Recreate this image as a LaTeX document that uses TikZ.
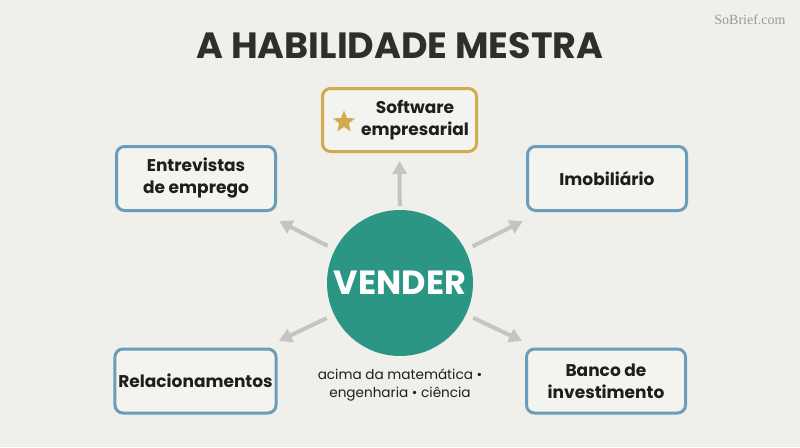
\documentclass[tikz,border=0pt]{standalone}
\usepackage{fontspec}
\setmainfont{Poppins}
\newfontfamily\markfont{Liberation Serif}
\usepackage{tikz}
\usetikzlibrary{shapes.geometric,arrows.meta,positioning}
\definecolor{paper}{HTML}{EFEFEB}
\definecolor{boxfill}{HTML}{F3F3F0}
\definecolor{vendgreen}{HTML}{2A9683}
\definecolor{edgeblue}{HTML}{6A9DBA}
\definecolor{edgegold}{HTML}{D4AB4C}
\definecolor{arrgray}{HTML}{C4C4C0}
\definecolor{inkdark}{HTML}{1E1E1E}
\definecolor{titleink}{HTML}{2E2E2C}
\tikzset{
  field/.style={rectangle,rounded corners=8pt,draw=edgeblue,line width=3pt,fill=boxfill,
                minimum width=159pt,minimum height=64pt,align=center,
                font=\bfseries\fontsize{17}{22}\selectfont,text=inkdark},
  keyfield/.style={field,draw=edgegold,minimum width=154pt,minimum height=63pt},
  fieldtext/.style={align=center,font=\bfseries\fontsize{17}{22}\selectfont,text=inkdark},
  arr/.style={-{Triangle[length=13pt,width=14pt]},draw=arrgray,line width=4pt},
}

\begin{document}
\begin{tikzpicture}[x=1pt,y=-1pt]
  \fill[paper] (0,0) rectangle (800,447);
  \node[font=\bfseries\fontsize{36.5}{36.5}\selectfont,text=titleink] (title) at (400,46) {A HABILIDADE MESTRA};
  \node[font=\markfont\fontsize{14}{14}\selectfont,text=black!40] (mark) at (750,20) {SoBrief.com};

  % centre
  \node[circle,fill=vendgreen,minimum size=146pt,text=white,
        font=\bfseries\fontsize{33.5}{33.5}\selectfont] (vender) at (400,283) {VENDER};
  \node[align=center,font=\fontsize{13.6}{18}\selectfont,text=inkdark] (note) at (400,385)
    {acima da matemática •\\engenharia • ciência};

  % boxes
  \node[keyfield] (soft) at (399.5,120) {};
  \node[star,star points=5,star point ratio=2.3,fill=edgegold,minimum size=23pt,inner sep=0pt] (softstar) at (344,122) {};
  \node[fieldtext] (softtext) at (415,120) {Software\\empresarial};
  \node[field] (interview) at (196,178.5) {Entrevistas\\de emprego};
  \node[field] (imob) at (607,178.5) {Imobiliário};
  \node[field] (relac) at (195.5,381) {Relacionamentos};
  \node[field] (banco) at (606,381) {Banco de\\investimento};

  % arrows
  \draw[arr,shorten <=4pt,shorten >=8pt] (vender) -- (soft);
  \draw[arr,shorten <=8pt,shorten >=20pt] (vender) -- (interview);
  \draw[arr,shorten <=8pt,shorten >=20pt] (vender) -- (imob);
  \draw[arr,shorten <=8pt,shorten >=15pt] (vender) -- (relac);
  \draw[arr,shorten <=8pt,shorten >=15pt] (vender) -- (banco);
\end{tikzpicture}
\end{document}
